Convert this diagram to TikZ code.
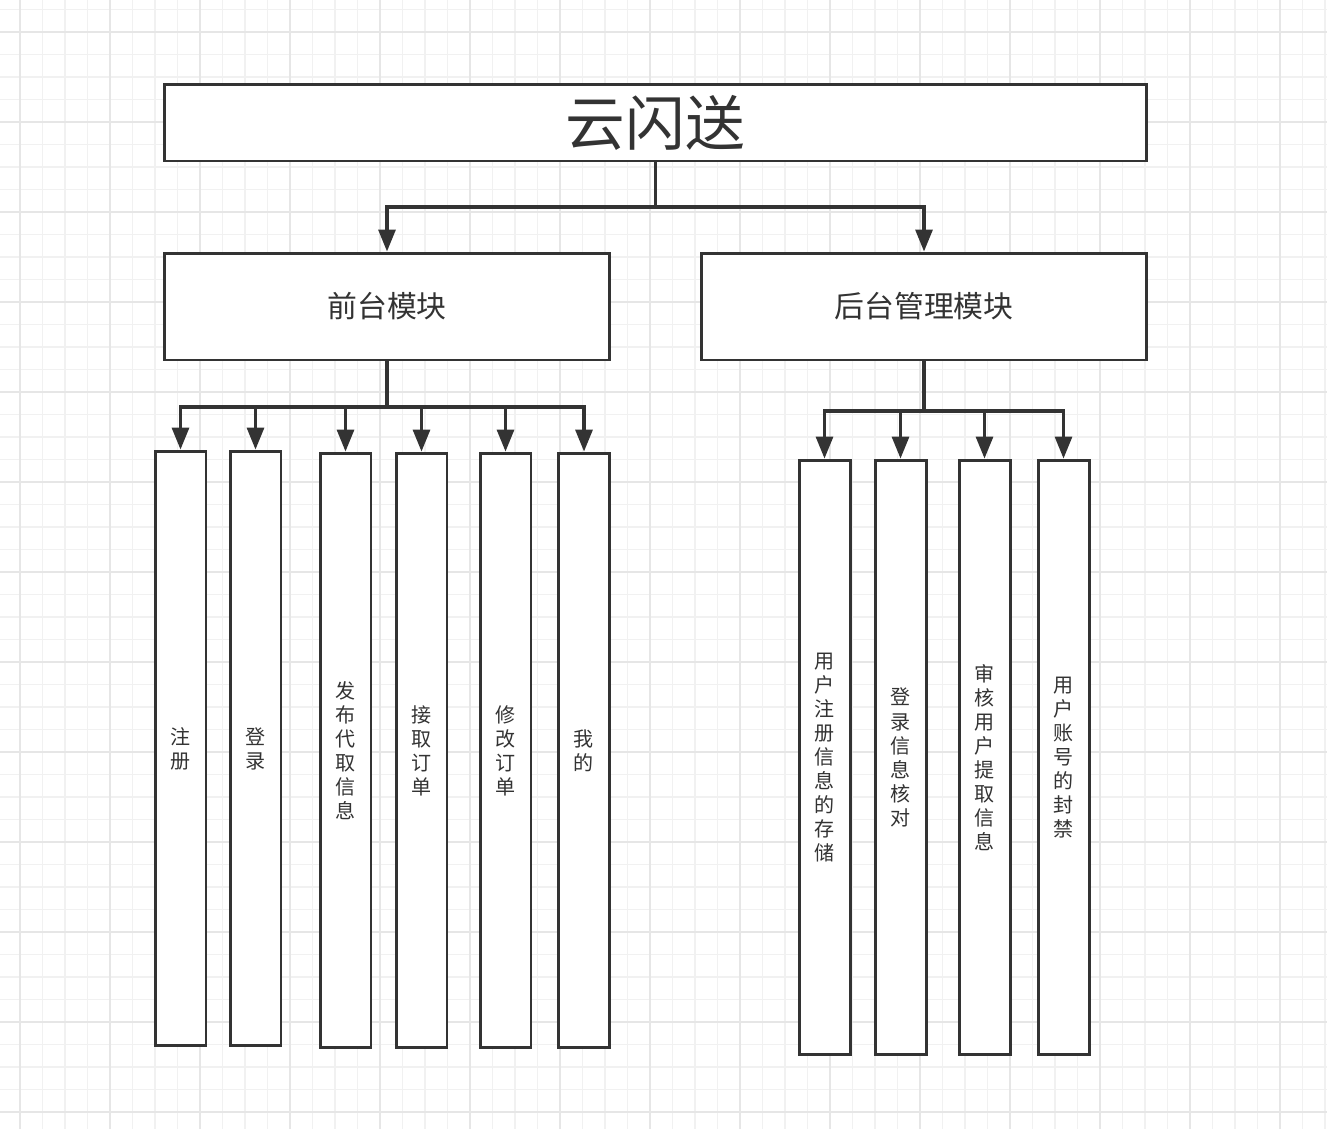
\documentclass[tikz,border=0pt]{standalone}
\usepackage{fontspec}
\usepackage{xcolor}
\usepackage{tikz}
\usetikzlibrary{arrows.meta,positioning}
\newfontfamily\cjk{Noto Sans CJK SC}
\definecolor{inkgray}{RGB}{51,51,51}
\definecolor{gridminor}{RGB}{241,241,241}
\definecolor{gridmajor}{RGB}{230,230,230}

\begin{document}
\begin{tikzpicture}[
        x=0.02cm, y=-0.02cm,
        box/.style={rectangle, draw=inkgray, line width=1.7pt, fill=white, text=inkgray, inner sep=0pt, align=center},
        titlebox/.style={box, minimum width=19.66cm, minimum height=1.54cm, font=\cjk\fontsize{34}{40}\selectfont},
        modbox/.style={box, minimum width=8.92cm, minimum height=2.14cm, font=\cjk\fontsize{17}{20}\selectfont},
        leafbox/.style={box, minimum width=1.02cm, minimum height=11.9cm, font=\cjk\fontsize{11.4}{13.7}\selectfont},
        arrow/.style={draw=inkgray, line width=1.8pt, -{Triangle[length=0.44cm 0, width=0.34cm 0]}},
        trunk/.style={draw=inkgray, line width=2pt}
    ]
        \useasboundingbox (0,0) rectangle (1327,1129);
        \fill[white] (0,0) rectangle (1327,1129);

        % Background grid
        \foreach \gx in {-2.5,20,...,1330} \draw[gridminor, line width=0.6pt] (\gx,0) -- (\gx,1129);
        \foreach \gy in {9.5,32,...,1130} \draw[gridminor, line width=0.6pt] (0,\gy) -- (1327,\gy);
        \foreach \gx in {20,110,...,1330} \draw[gridmajor, line width=0.8pt] (\gx,0) -- (\gx,1129);
        \foreach \gy in {32,122,...,1130} \draw[gridmajor, line width=0.8pt] (0,\gy) -- (1327,\gy);

        % Title and modules
        \node[titlebox] (title) at (655.5,122.5) {云闪送};
        \node[modbox] (front) at (387,306.5) {前台模块};
        \node[modbox] (back) at (924,306.5) {后台管理模块};

        % Front leaves
        \node[leafbox] (register) at (180.5,748.5) {注\\册};
        \node[leafbox] (login) at (255.5,748.5) {登\\录};
        \node[leafbox] (publish) at (345.5,750.5) {发\\布\\代\\取\\信\\息};
        \node[leafbox] (accept) at (421.5,750.5) {接\\取\\订\\单};
        \node[leafbox] (modify) at (505.5,750.5) {修\\改\\订\\单};
        \node[leafbox] (mine) at (584,750.5) {我\\的};

        % Back leaves
        \node[leafbox] (store) at (824.5,757.5) {用\\户\\注\\册\\信\\息\\的\\存\\储};
        \node[leafbox] (check) at (900.5,757.5) {登\\录\\信\\息\\核\\对};
        \node[leafbox] (audit) at (984.5,757.5) {审\\核\\用\\户\\提\\取\\信\\息};
        \node[leafbox] (ban) at (1063.5,757.5) {用\\户\\账\\号\\的\\封\\禁};

        % Connections from title
        \coordinate (split) at (655.5,207);
        \draw[trunk] (title.south) -- (split);
        \draw[arrow] (split) -| (front.north);
        \draw[arrow] (split) -| (back.north);

        % Connections for front modules
        \coordinate (fsplit) at (387,407);
        \draw[trunk] (front.south) -- (fsplit);
        \draw[arrow] (fsplit) -| (register.north);
        \draw[arrow] (fsplit) -| (login.north);
        \draw[arrow] (fsplit) -| (publish.north);
        \draw[arrow] (fsplit) -| (accept.north);
        \draw[arrow] (fsplit) -| (modify.north);
        \draw[arrow] (fsplit) -| (mine.north);

        % Connections for back modules
        \coordinate (bsplit) at (924,411);
        \draw[trunk] (back.south) -- (bsplit);
        \draw[arrow] (bsplit) -| (store.north);
        \draw[arrow] (bsplit) -| (check.north);
        \draw[arrow] (bsplit) -| (audit.north);
        \draw[arrow] (bsplit) -| (ban.north);
    \end{tikzpicture}
\end{document}
